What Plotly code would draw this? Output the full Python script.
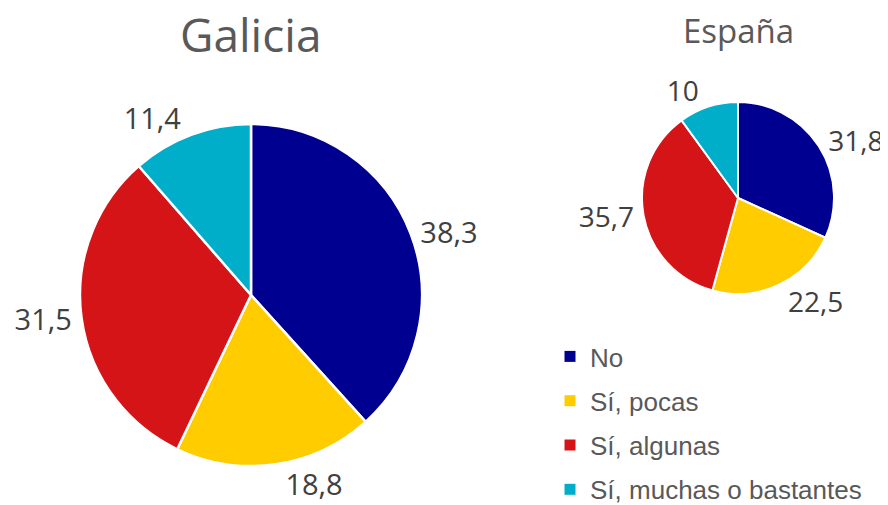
import plotly.graph_objects as go

categories = ["No", "Sí, pocas", "Sí, algunas", "Sí, muchas o bastantes"]
galicia_values = [38.3, 18.8, 31.5, 11.4]
espana_values = [31.8, 22.5, 35.7, 10.0]
colors = ["#000090", "#FFCC00", "#D41417", "#00AECA"]
titles = ["Galicia", "España"]

W, H = 888, 505
OFF = 8  # page body margin

def px(x):
    return (x - OFF) / W

def py(y):
    return 1 - (y - OFF) / H

def dom(cx, cy, r):
    return dict(x=[px(cx - r), px(cx + r)], y=[py(cy + r), py(cy - r)])

fig = go.Figure()
fig.add_trace(go.Pie(
    labels=categories, values=galicia_values, sort=False, direction="clockwise",
    rotation=0, marker=dict(colors=colors, line=dict(color="white", width=2.5)),
    textposition="outside", texttemplate="%{value}", textinfo="value",
    textfont=dict(size=29, color="#404040", family="Open Sans"),
    domain=dom(251, 295, 171), showlegend=False, hoverinfo="label+value",
))
fig.add_trace(go.Pie(
    labels=categories, values=espana_values, sort=False, direction="clockwise",
    rotation=0, marker=dict(colors=colors, line=dict(color="white", width=2)),
    textposition="outside", texttemplate="%{value}", textinfo="value",
    textfont=dict(size=28, color="#404040", family="Open Sans"),
    domain=dom(738, 198, 96), showlegend=False, hoverinfo="label+value",
))

# legend entries
for i, (name, col) in enumerate(zip(categories, colors)):
    fig.add_trace(go.Scatter(
        x=[None], y=[None], mode="markers", name=name, legendgroup=f"g{i}",
        marker=dict(symbol="square", size=11, color=col), showlegend=True,
    ))

fig.add_annotation(text=titles[0], x=px(251), y=py(34), xref="paper", yref="paper",
                   xanchor="center", yanchor="middle", showarrow=False,
                   font=dict(size=46, color="#595959", family="Open Sans"))
fig.add_annotation(text=titles[1], x=px(738), y=py(30), xref="paper", yref="paper",
                   xanchor="center", yanchor="middle", showarrow=False,
                   font=dict(size=33, color="#595959", family="Open Sans"))

fig.update_layout(
    width=W, height=H, margin=dict(l=0, r=0, t=0, b=0, autoexpand=False),
    paper_bgcolor="white", plot_bgcolor="white",
    separators=",.",
    xaxis=dict(visible=False), yaxis=dict(visible=False),
    legend=dict(x=px(550), y=py(333), xanchor="left", yanchor="top",
                font=dict(size=26, color="#595959", family="Liberation Sans"),
                bgcolor="rgba(0,0,0,0)", itemwidth=30, tracegroupgap=7.5),
)

fig.write_html("out.html")
